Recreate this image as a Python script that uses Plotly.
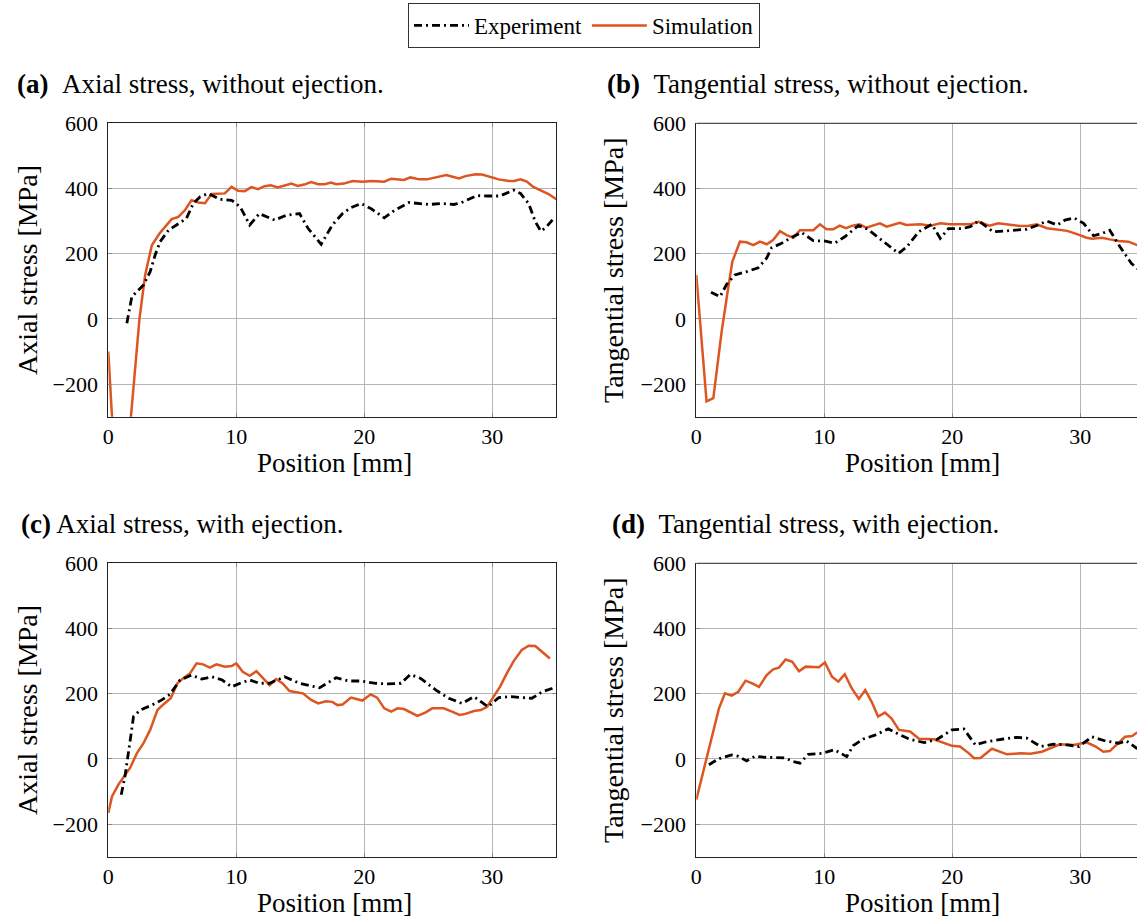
import plotly.graph_objects as go

# ---------------- data ----------------
a_sim_x = [0, 0.5, 1.0, 1.5, 2.0, 2.44, 2.88, 3.4, 4.0, 4.44, 4.95, 5.47, 6.0, 6.5, 7.03, 7.55, 8.07, 9.1, 9.63,
           10.14, 10.66, 11.18, 11.7, 12.2, 12.7, 13.25, 13.8, 14.3, 14.8, 15.3, 15.85, 16.4, 16.9, 17.4, 17.8, 18.4,
           19.1, 19.85, 20.6, 21.56, 22.1, 23.1, 23.6, 24.3, 24.9, 25.6, 26.4, 26.9, 27.4, 27.9, 28.7, 29.2, 29.86,
           30.5, 31.3, 31.7, 32.2, 32.7, 33.2, 33.9, 34.4, 35.0]
a_sim_y = [-100, -445, -520, -420, -196, 2, 135, 226, 262, 283, 306, 313, 334, 364, 357, 355, 383, 385, 405,
           393, 392, 404, 398, 407, 410, 403, 410, 415, 408, 412, 420, 413, 413, 418, 413, 415,
           423, 421, 423, 421, 430, 426, 434, 428, 428, 433, 441, 436, 431, 438, 444, 443, 436,
           428, 423, 423, 428, 421, 405, 392, 383, 367]
a_exp_x = [1.45, 1.84, 2.75, 3.27, 3.66, 4.05, 4.7, 5.47, 6.1, 6.64, 7.16, 7.8, 8.7, 9.63, 10.3, 11.05, 11.8,
           13.0, 13.9, 14.94, 15.6, 16.63, 17.5, 18.3, 18.95, 19.74, 20.5, 21.56, 22.4, 23.5, 24.3, 25.05, 26.1,
           27.0, 27.6, 28.8, 29.6, 30.6, 31.67, 32.2, 32.84, 33.36, 33.8, 34.25, 34.9]
a_exp_y = [-13, 68, 104, 145, 196, 237, 272, 293, 308, 354, 374, 385, 367, 364, 344, 288, 323,
           303, 318, 323, 278, 229, 288, 323, 341, 354, 339, 310, 334, 357, 354, 351, 354,
           351, 357, 378, 377, 377, 395, 385, 354, 298, 269, 283, 313]

b_sim_x = [0, 0.8, 1.33, 1.98, 2.45, 2.81, 3.41, 3.93, 4.45, 4.97, 5.5, 6.0, 6.54, 7.06, 7.58, 8.1, 9.14, 9.66,
           10.18, 10.7, 11.2, 11.7, 12.2, 12.75, 13.27, 13.8, 14.35, 14.87, 15.4, 15.9, 16.4, 17.0, 17.5, 18.3,
           19.06, 19.8, 20.6, 21.4, 22.06, 22.9, 23.6, 24.5, 25.3, 25.97, 26.6, 27.4, 28.2, 28.97, 29.75, 30.5,
           30.9, 31.7, 32.3, 33.0, 33.76, 34.4, 35.0]
b_sim_y = [135, -253, -243, -39, 84, 175, 237, 235, 226, 237, 229, 242, 269, 257, 249, 272, 272, 290,
           275, 275, 286, 278, 286, 290, 280, 286, 293, 283, 288, 295, 288, 290, 290, 286,
           293, 290, 291, 290, 298, 286, 293, 288, 285, 286, 290, 278, 275, 270, 260, 249,
           246, 249, 244, 239, 237, 226, 218]
b_exp_x = [1.15, 1.85, 2.37, 3.02, 3.93, 4.84, 5.49, 5.88, 6.66, 7.4, 8.23, 9.14, 10.0, 10.8, 11.6, 12.66,
           13.4, 14.35, 15.0, 15.8, 16.45, 17.4, 18.4, 19.06, 19.7, 20.8, 21.4, 22.06, 23.2, 24.5, 25.8, 26.7,
           27.4, 28.2, 28.8, 29.5, 30.26, 31.04, 31.7, 32.3, 33.1, 34.0, 34.6]
b_exp_y = [82, 68, 106, 135, 145, 157, 186, 218, 232, 249, 265, 240, 239, 232, 252, 286,
           275, 245, 226, 201, 221, 268, 290, 247, 277, 277, 283, 301, 267, 272, 275, 288,
           300, 288, 303, 310, 293, 255, 262, 272, 221, 170, 150]

c_sim_x = [0, 0.29, 0.8, 1.2, 1.71, 2.23, 2.75, 3.27, 3.84, 4.3, 4.88, 5.4, 5.84, 6.38, 6.9, 7.4, 7.94, 8.45,
           9.1, 9.63, 10.0, 10.5, 11.05, 11.57, 12.1, 12.6, 13.1, 13.6, 14.16, 15.2, 15.85, 16.4, 17.0, 17.5,
           17.9, 18.3, 18.96, 19.85, 20.5, 21.0, 21.56, 22.1, 22.6, 23.1, 24.15, 24.8, 25.3, 26.2, 26.85, 27.45,
           27.9, 28.56, 29.1, 29.6, 30.1, 30.6, 31.1, 31.67, 32.3, 32.84, 33.36, 33.9, 34.5]
c_sim_y = [-166, -115, -78, -57, -27, 17, 48, 89, 150, 167, 186, 232, 247, 262, 293, 290, 280, 290,
           283, 285, 293, 267, 255, 269, 247, 226, 245, 232, 208, 201, 181, 170, 177, 175,
           165, 167, 188, 179, 198, 188, 155, 145, 155, 153, 132, 143, 155, 155, 145, 135,
           138, 147, 150, 160, 191, 221, 260, 300, 334, 347, 346, 328, 308]
c_exp_x = [1.01, 1.32, 1.66, 1.97, 2.49, 3.4, 4.18, 4.82, 5.6, 6.5, 7.3, 8.07, 8.9, 9.63, 10.3, 11.05, 11.8,
           12.6, 13.77, 14.94, 16.5, 17.3, 17.8, 18.8, 19.7, 20.9, 21.8, 22.86, 23.6, 24.4, 25.6, 26.6, 27.65,
           28.56, 29.67, 30.5, 31.4, 33.1, 33.9, 34.65, 35.0]
c_exp_y = [-110, -49, 43, 130, 150, 165, 181, 198, 242, 257, 245, 252, 242, 221, 232, 242, 232,
           232, 252, 232, 218, 237, 249, 239, 239, 232, 230, 232, 259, 247, 211, 186, 170,
           191, 160, 188, 191, 186, 206, 216, 222]

d_sim_x = [0, 0.55, 1.2, 1.77, 2.24, 2.76, 3.28, 3.85, 4.37, 4.9, 5.5, 6.0, 6.46, 6.98, 7.5, 8.02, 8.54, 9.06,
           9.58, 10.05, 10.6, 11.1, 11.6, 12.15, 12.7, 13.2, 13.7, 14.2, 14.74, 15.26, 15.83, 16.7, 17.4, 18.55,
           19.2, 19.98, 20.6, 21.3, 21.7, 22.2, 23.1, 24.27, 25.3, 26.1, 27.0, 27.65, 28.4, 29.5, 30.5, 31.2,
           31.8, 32.3, 33.0, 33.5, 34.05, 34.4, 35.0]
d_sim_y = [-125, -39, 58, 155, 201, 194, 206, 240, 232, 221, 257, 275, 280, 305, 298, 269, 283, 281,
           281, 296, 252, 237, 260, 216, 184, 211, 175, 130, 142, 124, 89, 84, 62, 60,
           51, 40, 38, 17, 2, 3, 31, 14, 17, 16, 22, 33, 45, 43, 51, 38,
           22, 24, 51, 68, 70, 80, 85]
d_exp_x = [0.99, 1.72, 2.76, 3.28, 3.93, 4.58, 5.36, 6.14, 6.93, 7.58, 8.1, 8.75, 9.8, 10.8, 11.35, 11.75,
           12.27, 13.05, 13.96, 15.0, 15.8, 16.7, 17.8, 18.8, 19.98, 20.9, 21.8, 22.7, 24.0, 25.0, 25.8, 26.9,
           27.9, 28.96, 29.9, 30.9, 31.96, 33.0, 33.6, 34.4, 35.0]
d_exp_y = [-18, 0, 12, 8, -6, 8, 5, 3, 3, -8, -13, 14, 17, 28, 17, 7,
           41, 61, 73, 92, 76, 60, 50, 60, 89, 92, 43, 53, 61, 66, 64, 38,
           45, 43, 38, 68, 55, 48, 55, 33, 25]

x_ticks = [0, 10, 20, 30]
y_ticks = [-200, 0, 200, 400, 600]
captions = ["<b>(a)</b>\u00a0\u00a0Axial stress, without ejection.",
            "<b>(b)</b>\u00a0\u00a0Tangential stress, without ejection.",
            "<b>(c)</b> Axial stress, with ejection.",
            "<b>(d)</b>\u00a0\u00a0Tangential stress, with ejection."]
y_titles = ["Axial stress [MPa]", "Tangential stress [MPa]", "Axial stress [MPa]", "Tangential stress [MPa]"]
x_title = "Position [mm]"

# ---------------- layout geometry (pixels) ----------------
W, H = 1137, 920
FONT = "Liberation Serif"
ORANGE = "#DD5520"

left_px = [(108.3, 556.3), (696.3, 1137.0), (108.3, 556.3), (696.3, 1137.0)]
top_px = [(123.3, 416.7), (123.3, 416.7), (563.3, 856.7), (563.3, 856.7)]
px_per_mm = 12.8

fig = go.Figure()

panels = [(a_sim_x, a_sim_y, a_exp_x, a_exp_y),
          (b_sim_x, b_sim_y, b_exp_x, b_exp_y),
          (c_sim_x, c_sim_y, c_exp_x, c_exp_y),
          (d_sim_x, d_sim_y, d_exp_x, d_exp_y)]

for i, (sx, sy, ex, ey) in enumerate(panels):
    suffix = "" if i == 0 else str(i + 1)
    fig.add_trace(go.Scatter(x=sx, y=sy, mode="lines", name="Simulation",
                             line=dict(color=ORANGE, width=2.5),
                             showlegend=(i == 0), legendrank=2,
                             xaxis="x" + suffix, yaxis="y" + suffix))
    fig.add_trace(go.Scatter(x=ex, y=ey, mode="lines", name="Experiment",
                             line=dict(color="black", width=2.8, dash="8px,4px,2px,4px"),
                             showlegend=(i == 0), legendrank=1,
                             xaxis="x" + suffix, yaxis="y" + suffix))

tickfont = dict(family=FONT, size=22, color="black")
axis_common = dict(showgrid=True, gridcolor="#b5b5b5", gridwidth=1, zeroline=False,
                   showline=True, linecolor="#222222", linewidth=1,
                   ticks="inside", ticklen=4, tickcolor="#888888")

layout = {}
for i in range(4):
    suffix = "" if i == 0 else str(i + 1)
    l, r = left_px[i]
    t, b = top_px[i]
    right_side = (i % 2 == 1)
    xmax = (r - l) / px_per_mm
    layout["xaxis" + suffix] = dict(axis_common, domain=[l / W, r / W], range=[0, xmax],
                                    tickvals=x_ticks, anchor="y" + suffix, tickfont=tickfont,
                                    mirror=(False if right_side else "ticks"),
                                    ticklabelstandoff=0)
    layout["yaxis" + suffix] = dict(axis_common, domain=[1 - b / H, 1 - t / H], range=[-300, 600],
                                    tickvals=y_ticks, anchor="x" + suffix, tickfont=tickfont,
                                    mirror=(False if right_side else "ticks"),
                                    ticklabelstandoff=5)

fig.update_layout(**layout)

shapes = []
for i in (1, 3):
    suffix = str(i + 1)
    shapes.append(dict(type="line", xref="x" + suffix + " domain", yref="y" + suffix + " domain",
                       x0=0, x1=1, y0=1, y1=1, line=dict(color="#222222", width=1)))

annotations = []
cap_pos = [(15, 84), (605, 84), (19, 524), (610, 524)]
for i, (cx, cy) in enumerate(cap_pos):
    annotations.append(dict(text=captions[i], x=cx / W, y=1 - cy / H, xref="paper", yref="paper",
                            xanchor="left", yanchor="middle", showarrow=False,
                            font=dict(family=FONT, size=27, color="black")))
ytitle_x = [27, 613, 27, 613]
for i in range(4):
    t, b = top_px[i]
    annotations.append(dict(text=y_titles[i], x=ytitle_x[i] / W, y=1 - (t + b) / 2 / H,
                            xref="paper", yref="paper", xanchor="center", yanchor="middle",
                            textangle=-90, showarrow=False,
                            font=dict(family=FONT, size=28, color="black")))
xtitle_pos = [(334, 463), (922, 463), (334, 903), (922, 903)]
for (tx, ty) in xtitle_pos:
    annotations.append(dict(text=x_title, x=tx / W, y=1 - ty / H, xref="paper", yref="paper",
                            xanchor="center", yanchor="middle", showarrow=False,
                            font=dict(family=FONT, size=27, color="black")))

fig.update_layout(
    width=W, height=H,
    margin=dict(l=0, r=0, t=0, b=0, autoexpand=False),
    paper_bgcolor="white", plot_bgcolor="white",
    font=dict(family=FONT, color="black"),
    shapes=shapes, annotations=annotations,
    legend=dict(orientation="h", x=584 / W, xanchor="center", y=1 - 3 / H, yanchor="top",
                bordercolor="#333333", borderwidth=1, bgcolor="white",
                font=dict(family=FONT, size=23, color="black"),
                itemwidth=55, tracegroupgap=0),
)

fig.write_html("out.html")
